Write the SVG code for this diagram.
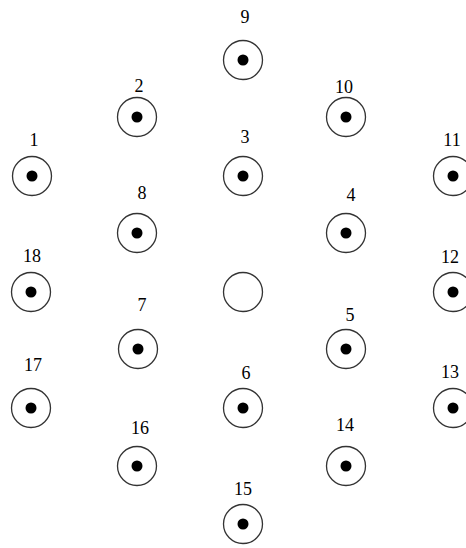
<svg xmlns="http://www.w3.org/2000/svg" width="466" height="548" viewBox="0 0 466 548">
<style>
.ring{fill:#fff;stroke:#333;stroke-width:1.3}
.dot{fill:#000}
.lbl{font-family:"Liberation Serif",serif;font-size:18px;fill:#000;text-anchor:middle}
</style>
<defs>
<g id="node"><circle class="ring" r="19.5"/><circle class="dot" r="5.5"/></g>
</defs>
<rect width="466" height="548" fill="#fff"/>
<g id="connectors"></g>
<g id="n9"><use href="#node" x="243" y="60"/><text class="lbl" x="245" y="23">9</text></g>
<g id="n2"><use href="#node" x="137" y="117"/><text class="lbl" x="139" y="92">2</text></g>
<g id="n10"><use href="#node" x="346" y="117"/><text class="lbl" x="344" y="93">10</text></g>
<g id="n1"><use href="#node" x="32" y="176"/><text class="lbl" x="34" y="146">1</text></g>
<g id="n3"><use href="#node" x="243" y="176"/><text class="lbl" x="245" y="143">3</text></g>
<g id="n11"><use href="#node" x="453" y="176"/><text class="lbl" x="452" y="146">11</text></g>
<g id="n8"><use href="#node" x="137" y="233"/><text class="lbl" x="142" y="199">8</text></g>
<g id="n4"><use href="#node" x="346" y="233"/><text class="lbl" x="351" y="201">4</text></g>
<g id="n18"><use href="#node" x="31" y="292"/><text class="lbl" x="32" y="262">18</text></g>
<g id="center"><circle class="ring" cx="243" cy="292" r="19.5"/></g>
<g id="n12"><use href="#node" x="453" y="292"/><text class="lbl" x="450" y="263">12</text></g>
<g id="n7"><use href="#node" x="138" y="349"/><text class="lbl" x="142" y="311">7</text></g>
<g id="n5"><use href="#node" x="346" y="349"/><text class="lbl" x="350" y="321">5</text></g>
<g id="n17"><use href="#node" x="31" y="408"/><text class="lbl" x="33" y="371">17</text></g>
<g id="n6"><use href="#node" x="243" y="408"/><text class="lbl" x="246" y="379">6</text></g>
<g id="n13"><use href="#node" x="453" y="408"/><text class="lbl" x="450" y="378">13</text></g>
<g id="n16"><use href="#node" x="137" y="466"/><text class="lbl" x="140" y="434">16</text></g>
<g id="n14"><use href="#node" x="346" y="466"/><text class="lbl" x="345" y="431">14</text></g>
<g id="n15"><use href="#node" x="243" y="524"/><text class="lbl" x="243" y="495">15</text></g>
</svg>
